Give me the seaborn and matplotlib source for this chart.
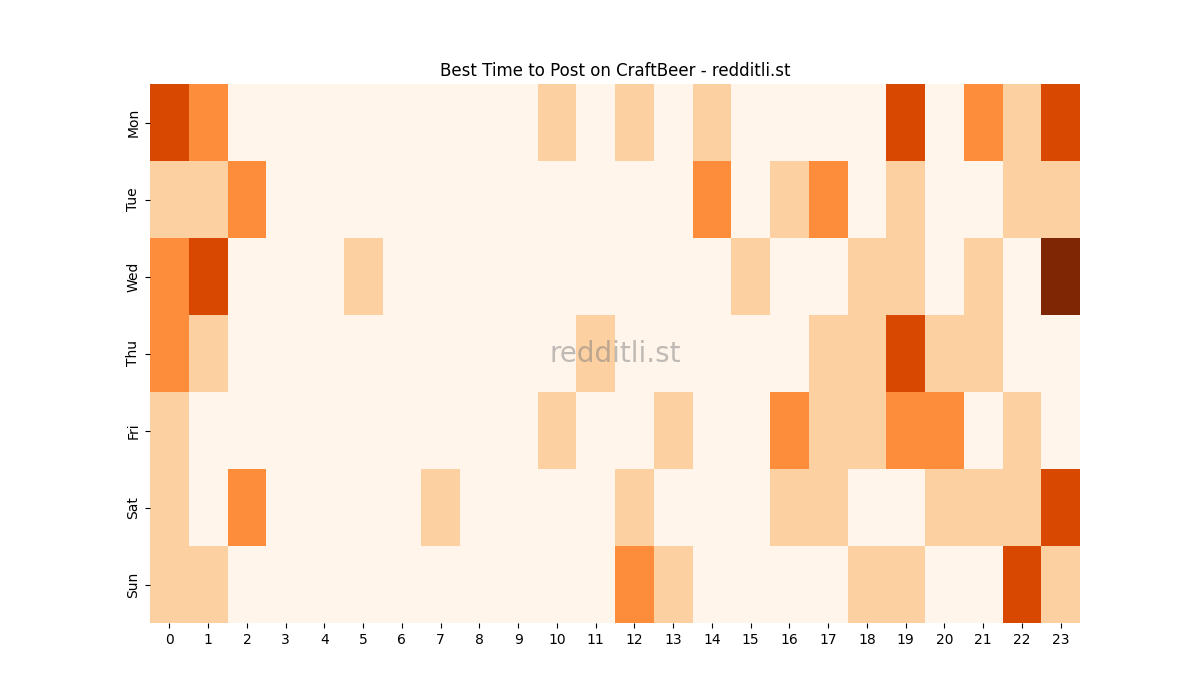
import matplotlib
matplotlib.use("Agg")
import matplotlib.pyplot as plt
import seaborn as sns
import pandas as pd

days = ["Mon", "Tue", "Wed", "Thu", "Fri", "Sat", "Sun"]
hours = list(range(24))

mon = [3, 2, 0, 0, 0, 0, 0, 0, 0, 0, 1, 0, 1, 0, 1, 0, 0, 0, 0, 3, 0, 2, 1, 3]
tue = [1, 1, 2, 0, 0, 0, 0, 0, 0, 0, 0, 0, 0, 0, 2, 0, 1, 2, 0, 1, 0, 0, 1, 1]
wed = [2, 3, 0, 0, 0, 1, 0, 0, 0, 0, 0, 0, 0, 0, 0, 1, 0, 0, 1, 1, 0, 1, 0, 4]
thu = [2, 1, 0, 0, 0, 0, 0, 0, 0, 0, 0, 1, 0, 0, 0, 0, 0, 1, 1, 3, 1, 1, 0, 0]
fri = [1, 0, 0, 0, 0, 0, 0, 0, 0, 0, 1, 0, 0, 1, 0, 0, 2, 1, 1, 2, 2, 0, 1, 0]
sat = [1, 0, 2, 0, 0, 0, 0, 1, 0, 0, 0, 0, 1, 0, 0, 0, 1, 1, 0, 0, 1, 1, 1, 3]
sun = [1, 1, 0, 0, 0, 0, 0, 0, 0, 0, 0, 0, 2, 1, 0, 0, 0, 0, 1, 1, 0, 0, 3, 1]

df = pd.DataFrame([mon, tue, wed, thu, fri, sat, sun], index=days, columns=hours)

fig, ax = plt.subplots(figsize=(12, 7), dpi=100)
sns.heatmap(df, cmap="Oranges", vmin=0, vmax=4, cbar=False, ax=ax)
ax.set_title("Best Time to Post on CraftBeer - redditli.st")
ax.set_xlabel("")
ax.set_ylabel("")
ax.text(0.5, 0.5, "redditli.st", transform=ax.transAxes, ha="center", va="center",
        fontsize=20, color="grey", alpha=0.5)
fig.savefig("out.png")
